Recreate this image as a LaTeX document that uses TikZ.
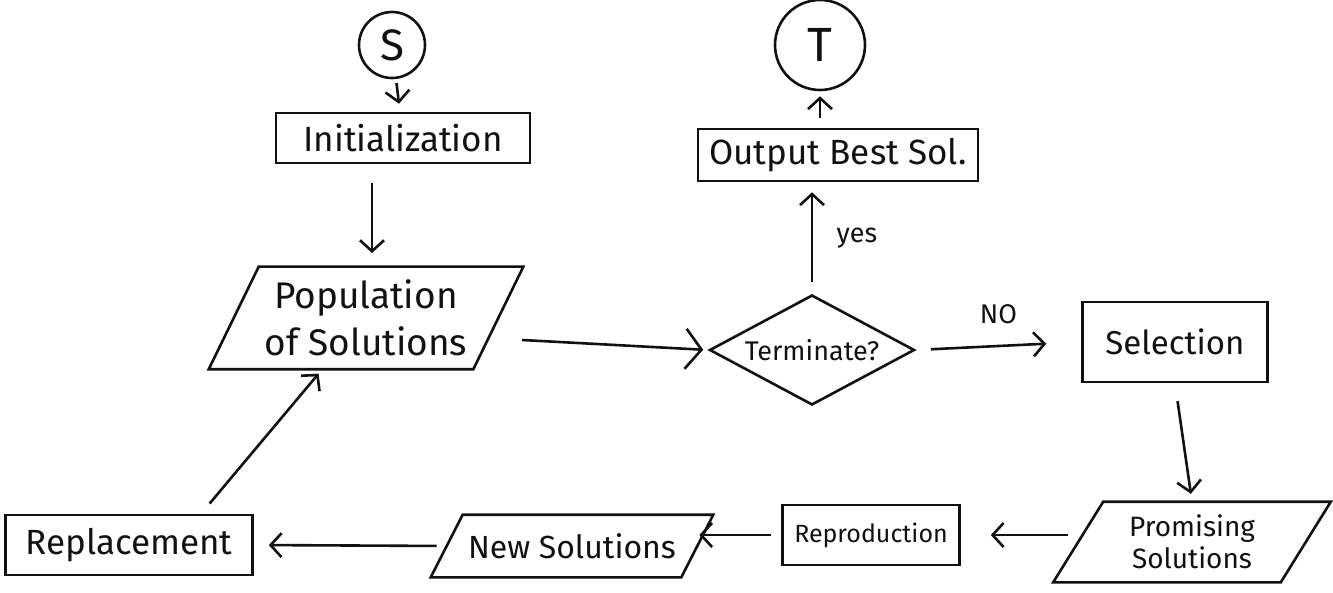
\documentclass[tikz,border=0pt]{standalone}
\usepackage{fontspec}
\setmainfont{Fira Sans}
\usepackage{tikz}
\usetikzlibrary{positioning,arrows.meta,shapes.geometric}
\definecolor{InkBlack}{HTML}{111111}
\newcommand{\hand}[1]{\fontsize{#1}{#1}\selectfont}
% parallelogram round a plain node: name, half slant
\newcommand{\slantframe}[2]{%
  \draw ([xshift=#2]#1.north west) -- ([xshift=#2]#1.north east)
     -- ([xshift=-#2]#1.south east) -- ([xshift=-#2]#1.south west) -- cycle;}

\begin{document}
\begin{tikzpicture}[x=1pt,y=-1pt,
    line width=2.6pt, draw=InkBlack, text=InkBlack,
    stepbox/.style={draw, rectangle, inner sep=0pt},
    databox/.style={rectangle, inner sep=0pt, align=center},
    askbox/.style={draw, diamond, aspect=1.86, inner sep=0pt},
    endbox/.style={draw, circle, inner sep=0pt},
    flow/.style={-{Straight Barb[length=11pt,width=24pt]}, line width=2.6pt}]
  \useasboundingbox (0,0) rectangle (1333,593);

  % start / end
  \node[endbox, minimum size=66pt, font=\hand{44}] (start) at (392,45) {S};
  \node[endbox, minimum size=90pt, font=\hand{48}] (stop) at (820,45) {T};

  % main loop
  \node[stepbox, minimum width=254pt, minimum height=50pt, font=\hand{35}]
       (init) at (403,138) {Initialization};
  \node[databox, minimum width=262pt, minimum height=100pt, font=\hand{37}]
       (pop) at (366,318) {Population\\[10pt]of Solutions};
  \node[askbox, minimum width=205pt, minimum height=110pt, font=\hand{27}]
       (term) at (812,350) {Terminate?};
  \node[stepbox, minimum width=280pt, minimum height=52pt, font=\hand{35}]
       (best) at (838,155) {Output Best Sol.};
  \node[stepbox, minimum width=185pt, minimum height=80pt, font=\hand{33}]
       (sel) at (1175,342) {Selection};
  \node[databox, minimum width=225pt, minimum height=78pt, font=\hand{28}]
       (prom) at (1192,542) {Promising\\[4pt]Solutions};
  \node[stepbox, minimum width=177pt, minimum height=60pt, font=\hand{25}]
       (repr) at (871,535) {Reproduction};
  \node[databox, minimum width=248pt, minimum height=60pt, font=\hand{32}]
       (news) at (572,546) {New Solutions};
  \node[stepbox, minimum width=247pt, minimum height=60pt, font=\hand{35}]
       (repl) at (129,545) {Replacement};

  \slantframe{pop}{25pt}
  \slantframe{prom}{25pt}
  \slantframe{news}{16pt}

  % connector ends
  \coordinate (initout) at (372,165);
  \coordinate (popin) at (372,265);
  \coordinate (popout) at (522,340);
  \coordinate (replout) at (200,515);
  \coordinate (popback) at (325,366);

  % connectors
  \draw[flow, shorten <=4pt, shorten >=8pt] (start) -- (init);
  \draw[flow, shorten <=18pt, shorten >=12pt] (initout) -- (popin);
  \draw[flow, -{Straight Barb[length=16pt,width=40pt]}, shorten >=5pt] (popout) -- (term.west);
  \draw[flow, shorten <=12pt, shorten >=10pt] (term.north) -- node[right=20pt, font=\hand{27}] {yes} (best.south -| term.north);
  \draw[flow, shorten <=10pt, shorten >=5pt] (best.north -| stop.south) -- (stop.south);
  \draw[flow, shorten <=15pt, shorten >=35pt] (term.east) -- node[above=18pt, font=\hand{27}] {NO} (sel.west);
  \draw[flow, shorten <=18pt, shorten >=8pt] (sel.south) -- (prom.north);
  \draw[flow, shorten <=10pt, shorten >=30pt] (prom.west |- repr.east) -- (repr.east);
  \draw[flow, shorten <=10pt, shorten >=2pt] (repr.west) -- (news.east |- repr.west);
  \draw[flow, shorten <=10pt, shorten >=15pt] (news.west) -- (repl.east);
  \draw[flow, shorten <=15pt, shorten >=10pt] (replout) -- (popback);
\end{tikzpicture}
\end{document}
